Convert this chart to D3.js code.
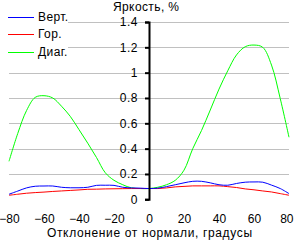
<!DOCTYPE html>
<html>
<head>
<meta charset="utf-8">
<script src="https://cdn.jsdelivr.net/npm/d3@7"></script>
<style>
  html, body { margin: 0; padding: 0; background: #fff; }
  svg { display: block; font-family: "Liberation Sans", Arial, sans-serif; }
</style>
</head>
<body>
<svg id="chart" width="294" height="240"></svg>
<script>
const angles = [-80,-75,-70,-65,-60,-55,-50,-45,-40,-35,-30,-25,-20,-15,-10,-5,0,5,10,15,20,25,30,35,40,45,50,55,60,65,70,75,80];
const vert = [0.040,0.065,0.090,0.103,0.105,0.105,0.095,0.091,0.091,0.095,0.110,0.111,0.110,0.095,0.090,0.088,0.085,0.088,0.100,0.115,0.130,0.142,0.142,0.130,0.115,0.111,0.125,0.135,0.137,0.135,0.112,0.085,0.045];
const hor = [0.032,0.040,0.048,0.053,0.057,0.062,0.066,0.070,0.074,0.079,0.080,0.082,0.083,0.084,0.085,0.085,0.085,0.085,0.090,0.098,0.102,0.106,0.106,0.106,0.106,0.100,0.093,0.082,0.075,0.066,0.058,0.045,0.032];
const diag = [0.30,0.52,0.70,0.805,0.818,0.80,0.735,0.655,0.55,0.443,0.33,0.21,0.15,0.115,0.09,0.085,0.085,0.095,0.115,0.15,0.23,0.40,0.543,0.705,0.87,1.015,1.14,1.205,1.218,1.20,1.06,0.795,0.49];
const seriesNames = ["Верт.", "Гор.", "Диаг."];
const seriesColors = ["#0000ff", "#ff0000", "#00ff00"];
const xTicks = [-80,-60,-40,-20,0,20,40,60,80];
const yTicks = [0,0.2,0.4,0.6,0.8,1,1.2,1.4];
const title = "Яркость, %";
const xTitle = "Отклонение от нормали, градусы";

const svg = d3.select("#chart");
const x = d3.scaleLinear().domain([-80, 80]).range([9, 289]);
const y = d3.scaleLinear().domain([0, 1.4]).range([199.3, 22]);

// gridlines
svg.append("g").selectAll("line").data(yTicks.filter(d => d > 0)).join("line")
  .attr("x1", x(-80)).attr("x2", x(80))
  .attr("y1", d => Math.round(y(d)) + 0.5).attr("y2", d => Math.round(y(d)) + 0.5)
  .attr("stroke", "#c0c0c0").attr("stroke-width", 1);

// data lines
const series = [
  {name: seriesNames[2], color: seriesColors[2], values: diag},
  {name: seriesNames[1], color: seriesColors[1], values: hor},
  {name: seriesNames[0], color: seriesColors[0], values: vert}
];
const line = d3.line().x((d, i) => x(angles[i])).y(d => y(d)).curve(d3.curveCatmullRom.alpha(0.5));
svg.append("g").selectAll("path").data(series).join("path")
  .attr("d", s => line(s.values))
  .attr("fill", "none").attr("stroke", s => s.color).attr("stroke-width", 1);

// legend background
svg.append("rect").attr("x", 0).attr("y", 0).attr("width", 68).attr("height", 62).attr("fill", "#fff");
const legend = svg.append("g");
seriesNames.forEach((n, i) => {
  const ly = [17, 34, 52][i];
  legend.append("line").attr("x1", 8).attr("x2", 34).attr("y1", ly + 0.5).attr("y2", ly + 0.5)
    .attr("stroke", seriesColors[i]).attr("stroke-width", 1);
  legend.append("text").attr("x", 38).attr("y", ly).attr("dy", "0.35em")
    .attr("font-size", 12).attr("letter-spacing", 0.4).attr("fill", "#000").text(n);
});

// y axis
const yAxis = svg.append("g").attr("transform", `translate(${x(0)},0)`)
  .call(d3.axisLeft(y).tickValues(yTicks).tickSize(4).tickPadding(7)
    .tickFormat(d => String(+d.toFixed(1))));
yAxis.select(".domain").attr("stroke", "#000").attr("stroke-width", 2);
yAxis.selectAll(".tick line").attr("stroke", "#000").attr("stroke-width", 2);
yAxis.selectAll("text").attr("font-size", 12).attr("letter-spacing", 0.5).attr("fill", "#000").attr("font-family", "Liberation Sans, Arial, sans-serif");

// x axis (labels only)
const xAxis = svg.append("g").attr("transform", `translate(0,${y(0)})`)
  .call(d3.axisBottom(x).tickValues(xTicks).tickSize(0).tickPadding(15));
xAxis.select(".domain").remove();
xAxis.selectAll("text").attr("font-size", 12).attr("fill", "#000").attr("font-family", "Liberation Sans, Arial, sans-serif");
xAxis.selectAll(".tick").filter(d => d === 80).select("text").attr("text-anchor", "end").attr("x", 293 - x(80));

// titles
svg.append("text").attr("x", 113).attr("y", 10.5)
  .attr("textLength", 66).attr("lengthAdjust", "spacing")
  .attr("font-size", 12).attr("fill", "#000").text(title);
svg.append("text").attr("x", 47).attr("y", 236.5)
  .attr("textLength", 205).attr("lengthAdjust", "spacing")
  .attr("font-size", 12).attr("fill", "#000").text(xTitle);
</script>
</body>
</html>
